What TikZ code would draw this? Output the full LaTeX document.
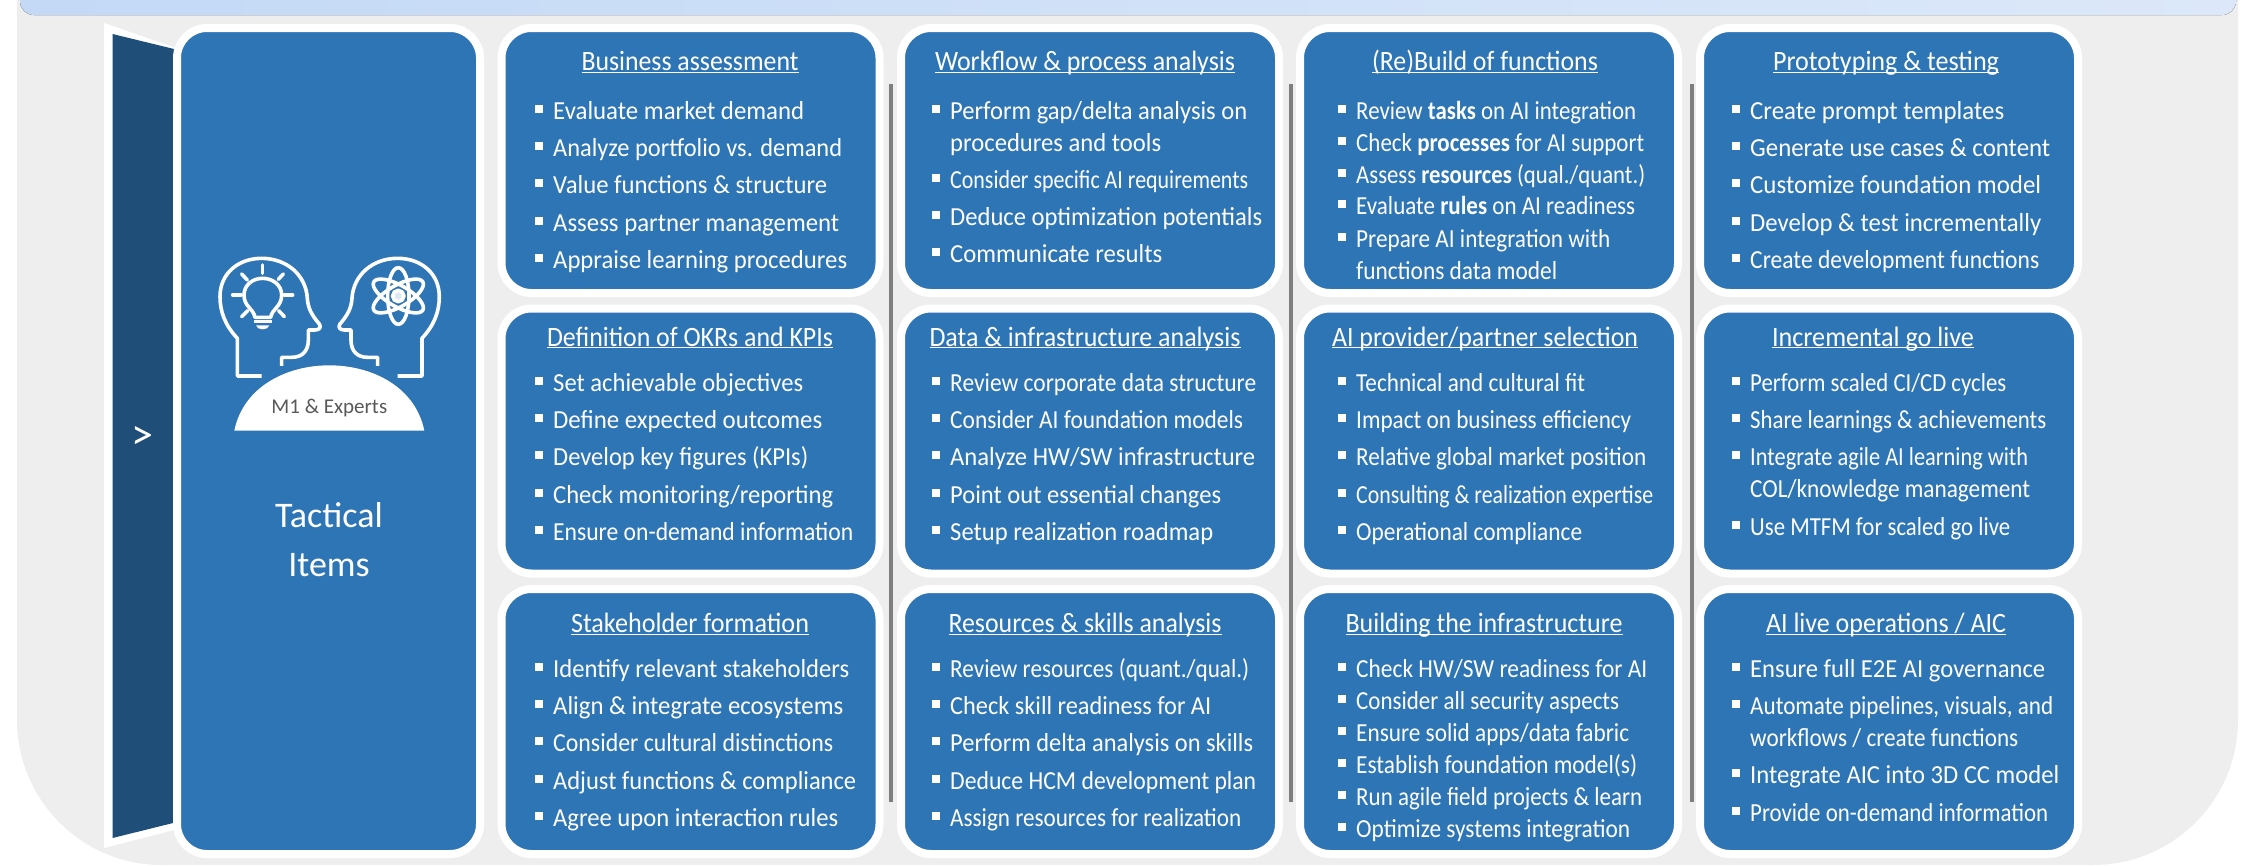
\documentclass[tikz,border=0pt]{standalone}
\usepackage{fontspec}
\setmainfont{Carlito}
\definecolor{cardblue}{HTML}{2E75B6}
\definecolor{darkblue}{HTML}{1F4E79}
\definecolor{panelgray}{HTML}{EEEEEE}
\definecolor{linegray}{HTML}{7F7F7F}
\definecolor{textgray}{HTML}{595959}
\definecolor{barleft}{HTML}{C3D9F6}
\definecolor{barright}{HTML}{DCE8F9}
\newcounter{entryno}
\newcommand{\FitText}[2]{\resizebox{#1pt}{\height}{#2}}
\newcommand{\CardMark}[2]{%
	\stepcounter{entryno}%
	\node[cardmark] (mark\theentryno) at (#1-14,#2-1) {};
}
\newcommand{\CardItem}[4]{%
	\CardMark{#1}{#2}
	\node[cardtext] (text\theentryno) at (#1,#2+9) {\FitText{#3}{#4}};
}
\newcommand{\CardPair}[6]{%
	\CardMark{#1}{#2}
	\node[cardtext] (text\theentryno) at (#1,#2+9) {\vtop{\baselineskip=32pt\hbox{\FitText{#3}{#4}}\hbox{\FitText{#5}{#6}}}};
}
\newcommand{\CardHead}[4]{%
	\stepcounter{entryno}%
	\node[cardhead] (head\theentryno) at (#2,#3+8.5) {\underline{\smash{\FitText{#4}{#1}}}};
}
\tikzset{
	x=1pt,y=-1pt,
	cardbox/.style={rectangle,fill=cardblue,draw=white,line width=8pt,rounded corners=30pt,
		minimum width=378pt,minimum height=265pt,inner sep=0pt},
	cardhead/.style={text=white,anchor=base,inner sep=0pt,font=\fontsize{28}{32}\selectfont},
	cardtext/.style={text=white,anchor=base west,inner sep=0pt,font=\fontsize{26}{30}\selectfont},
	cardmark/.style={rectangle,fill=white,minimum size=8pt,inner sep=0pt},
	headline/.style={draw=white,line width=3.6pt,line join=round},
	headicon/.pic={
		\draw[headline] (245,408) -- (172,408) -- (172,295)
			.. controls (135,255) and (120,215) .. (120,170)
			.. controls (120,100) and (175,55) .. (245,55)
			.. controls (320,55) and (378,105) .. (382,175)
			.. controls (384,205) and (395,225) .. (418,252)
			.. controls (425,262) and (418,270) .. (405,270)
			-- (385,270) -- (385,300)
			.. controls (385,335) and (365,352) .. (335,352)
			-- (305,352) -- (305,378);
	},
}
\begin{document}
\begin{tikzpicture}
	\useasboundingbox (0,0) rectangle (2250,865);
	% panel and top bar
	\fill[panelgray,rounded corners=145pt] (17,-300) rectangle (2238,865);
	\fill[left color=barleft,right color=barright,rounded corners=14pt] (20,-30) rectangle (2236,15);
	% arrow strip
	\fill[white] (104,23) -- (182,50) -- (182,828) -- (104,848) -- cycle;
	\fill[darkblue] (112.5,34) -- (174,49) -- (173,823) -- (112.5,838) -- cycle;
	\node[text=white,inner sep=0pt,font=\fontsize{44}{48}\selectfont] (arrowmark) at (142,438) {>};
	% separators
	\foreach \sx/\sname in {891/a,1291/b,1692/c}{
		\coordinate (top\sname) at (\sx,84);
		\coordinate (bottom\sname) at (\sx,802);
		\draw[linegray,line width=4pt] (top\sname) -- (bottom\sname);
	}
	% cards
	\node[cardbox,minimum width=303pt,minimum height=826pt] (tactical) at (328.5,441) {};
	\foreach \cname/\cx in {one/690.5,two/1090,three/1489,four/1889}{
		\foreach \rname/\ry in {top/160.5,mid/441,low/721.5}{
			\node[cardbox] (\cname\rname) at (\cx,\ry) {};
		}
	}
	% left card
	\begin{scope}[shift={(180,240)},x=0.3333pt,y=-0.3333pt]
		\pic {headicon};
		\pic[xscale=-1] at (898,0) {headicon};
		% bulb
		\draw[headline] (225,232) .. controls (220,205) and (192,200) .. (192,165)
			.. controls (192,135) and (218,115) .. (248,115)
			.. controls (278,115) and (305,135) .. (305,165)
			.. controls (305,200) and (277,205) .. (272,232) -- cycle;
		\draw[headline] (222,244) -- (275,244);
		\fill[white] (228,256) -- (268,256) .. controls (266,272) and (230,272) .. (228,256);
		\foreach \ax/\ay/\bx/\by in {248/75/248/100,185/102/202/120,310/102/295/118,158/165/183/165,313/165/338/165,185/230/203/212,313/230/296/212}{
			\draw[headline,line cap=round] (\ax,\ay) -- (\bx,\by);
		}
		% atom
		\foreach \turn in {0,60,120}{
			\draw[headline] (655,168) ellipse[x radius=32,y radius=85,rotate=\turn];
		}
		\draw[headline,fill=white!85!cardblue] (655,168) circle (17);
		% dome
		\fill[white] (163,572) .. controls (190,440) and (320,376) .. (448,376)
			.. controls (576,376) and (706,440) .. (733,572) -- cycle;
		\node[text=textgray,inner sep=0pt,font=\fontsize{21}{24}\selectfont] (experts) at (448,503) {M1 \& Experts};
	\end{scope}
	\node[text=white,inner sep=0pt,font=\fontsize{36}{40}\selectfont] (tacticalword) at (329,515) {Tactical};
	\node[text=white,inner sep=0pt,font=\fontsize{36}{40}\selectfont] (itemsword) at (329,565) {Items};
	% column one
	\CardHead{Business assessment}{690}{62}{217}
	\CardItem{553}{110}{251}{Evaluate market demand}
	\CardItem{553}{147}{289}{Analyze portfolio vs. demand}
	\CardItem{553}{184}{274}{Value functions \& structure}
	\CardItem{553}{222}{286}{Assess partner management}
	\CardItem{553}{259}{294}{Appraise learning procedures}
	\CardHead{Definition of OKRs and KPIs}{690}{337.5}{286}
	\CardItem{553}{382}{250}{Set achievable objectives}
	\CardItem{553}{419}{269}{Define expected outcomes}
	\CardItem{553}{456}{255}{Develop key figures (KPIs)}
	\CardItem{553}{494}{280}{Check monitoring/reporting}
	\CardItem{553}{531}{300}{Ensure on-demand information}
	\CardHead{Stakeholder formation}{690}{624}{238}
	\CardItem{553}{668}{296}{Identify relevant stakeholders}
	\CardItem{553}{705}{290}{Align \& integrate ecosystems}
	\CardItem{553}{742}{280}{Consider cultural distinctions}
	\CardItem{553}{780}{303}{Adjust functions \& compliance}
	\CardItem{553}{817}{285}{Agree upon interaction rules}
	% column two
	\CardHead{Workflow \& process analysis}{1085}{62}{300}
	\CardPair{950}{110}{297}{Perform gap/delta analysis on}{211}{procedures and tools}
	\CardItem{950}{179}{298}{Consider specific AI requirements}
	\CardItem{950}{216}{312}{Deduce optimization potentials}
	\CardItem{950}{253}{212}{Communicate results}
	\CardHead{Data \& infrastructure analysis}{1085}{337.5}{311}
	\CardItem{950}{382}{306}{Review corporate data structure}
	\CardItem{950}{419}{293}{Consider AI foundation models}
	\CardItem{950}{456}{305}{Analyze HW/SW infrastructure}
	\CardItem{950}{494}{271}{Point out essential changes}
	\CardItem{950}{531}{263}{Setup realization roadmap}
	\CardHead{Resources \& skills analysis}{1085}{624}{273}
	\CardItem{950}{668}{299}{Review resources (quant./qual.)}
	\CardItem{950}{705}{261}{Check skill readiness for AI}
	\CardItem{950}{742}{303}{Perform delta analysis on skills}
	\CardItem{950}{780}{306}{Deduce HCM development plan}
	\CardItem{950}{817}{291}{Assign resources for realization}
	% column three
	\CardHead{(Re)Build of functions}{1485}{62}{226}
	\CardItem{1356}{110}{280}{Review \textbf{tasks} on AI integration}
	\CardItem{1356}{142}{288}{Check \textbf{processes} for AI support}
	\CardItem{1356}{174}{289}{Assess \textbf{resources} (qual./quant.)}
	\CardItem{1356}{205}{279}{Evaluate \textbf{rules} on AI readiness}
	\CardPair{1356}{238}{254}{Prepare AI integration with}{201}{functions data model}
	\CardHead{AI provider/partner selection}{1485}{337.5}{306}
	\CardItem{1356}{382}{229}{Technical and cultural fit}
	\CardItem{1356}{419}{275}{Impact on business efficiency}
	\CardItem{1356}{456}{290}{Relative global market position}
	\CardItem{1356}{494}{297}{Consulting \& realization expertise}
	\CardItem{1356}{531}{226}{Operational compliance}
	\CardHead{Building the infrastructure}{1484}{624}{277}
	\CardItem{1356}{668}{291}{Check HW/SW readiness for AI}
	\CardItem{1356}{700}{263}{Consider all security aspects}
	\CardItem{1356}{732}{273}{Ensure solid apps/data fabric}
	\CardItem{1356}{764}{281}{Establish foundation model(s)}
	\CardItem{1356}{796}{286}{Run agile field projects \& learn}
	\CardItem{1356}{828}{274}{Optimize systems integration}
	% column four
	\CardHead{Prototyping \& testing}{1886}{62}{226}
	\CardItem{1750}{110}{254}{Create prompt templates}
	\CardItem{1750}{147}{300}{Generate use cases \& content}
	\CardItem{1750}{184}{291}{Customize foundation model}
	\CardItem{1750}{222}{291}{Develop \& test incrementally}
	\CardItem{1750}{259}{289}{Create development functions}
	\CardHead{Incremental go live}{1873}{337.5}{202}
	\CardItem{1750}{382}{256}{Perform scaled CI/CD cycles}
	\CardItem{1750}{419}{296}{Share learnings \& achievements}
	\CardPair{1750}{456}{278}{Integrate agile AI learning with}{280}{COL/knowledge management}
	\CardItem{1750}{526}{260}{Use MTFM for scaled go live}
	\CardHead{AI live operations / AIC}{1886}{624}{240}
	\CardItem{1750}{668}{295}{Ensure full E2E AI governance}
	\CardPair{1750}{705}{303}{Automate pipelines, visuals, and}{268}{workflows / create functions}
	\CardItem{1750}{774}{309}{Integrate AIC into 3D CC model}
	\CardItem{1750}{812}{298}{Provide on-demand information}
\end{tikzpicture}
\end{document}
